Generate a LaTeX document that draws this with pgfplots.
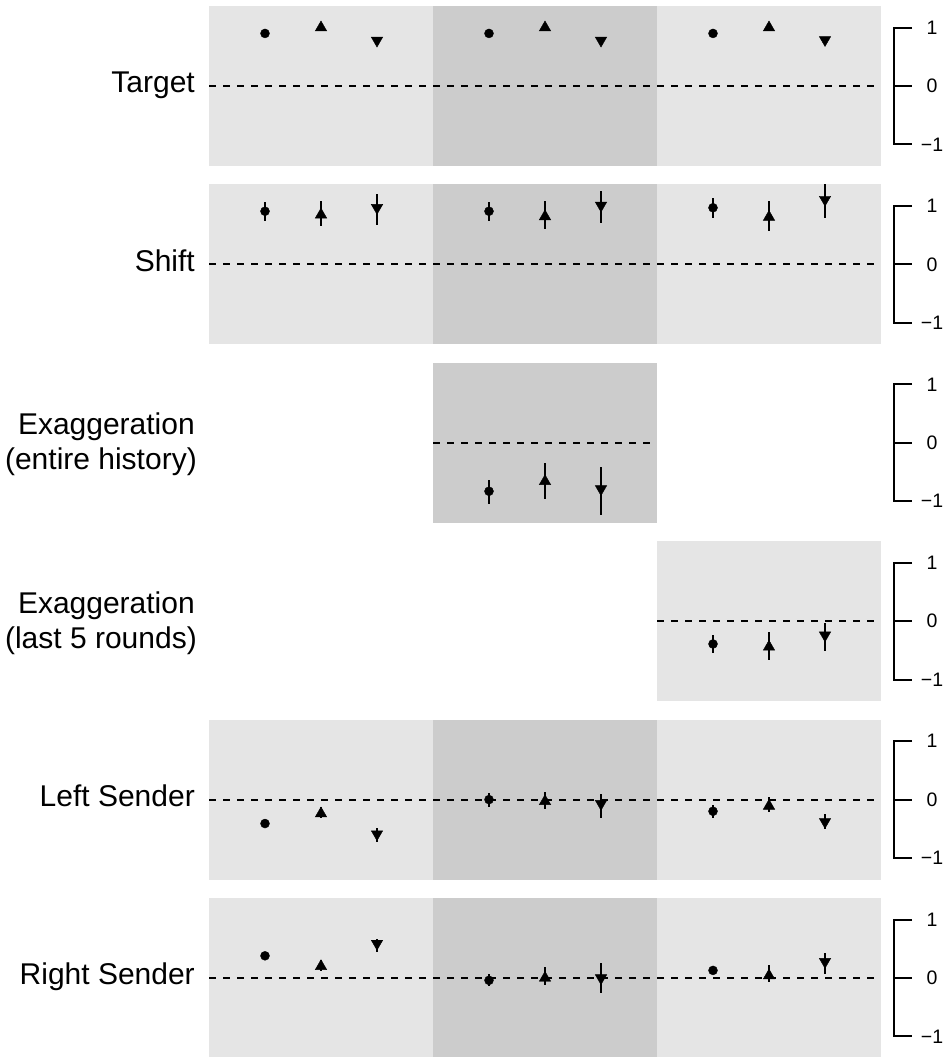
\documentclass[border=0pt]{standalone}
\usepackage{fontspec}
\setmainfont{Liberation Sans}
\usepackage{pgfplots}
\pgfplotsset{compat=1.18}
\definecolor{lg}{HTML}{E5E5E5}
\definecolor{dg}{HTML}{CCCCCC}
\newcommand{\labsize}{\fontsize{30}{36}\selectfont}
\newcommand{\ticksize}{\fontsize{19.5}{23}\selectfont}
\pgfplotsset{
  panel/.style={scale only axis, width=672pt, height=160pt, xmin=0, xmax=3,
    ymin=-1.37, ymax=1.37, hide axis, clip=false, anchor=south west},
  bg/.style={draw=none, mark=none, fill=#1, forget plot},
  zero/.style={black, mark=none, line width=2pt, dash pattern=on 7pt off 7pt},
  circ/.style={only marks, black, mark=*, mark size=4.5pt,
    error bars/.cd, y dir=both, y explicit, error mark=none,
    error bar style={line width=2.2pt, black}},
  upt/.style={only marks, black, mark=triangle*, mark size=6.6pt,
    error bars/.cd, y dir=both, y explicit, error mark=none,
    error bar style={line width=2.2pt, black}},
  dnt/.style={only marks, black, mark=triangle*, mark size=6.6pt, mark options={rotate=180},
    error bars/.cd, y dir=both, y explicit, error mark=none,
    error bar style={line width=2.2pt, black}},
}
\newcommand{\rbracket}{%
  \draw[line width=2pt, line join=miter] ([xshift=31pt]axis cs:3,1) -- ([xshift=13pt]axis cs:3,1) -- ([xshift=13pt]axis cs:3,-1) -- ([xshift=31pt]axis cs:3,-1);
  \draw[line width=2pt] ([xshift=13pt]axis cs:3,0) -- ([xshift=31pt]axis cs:3,0);
  \node[font=\ticksize, inner sep=0pt] at ([xshift=51pt]axis cs:3,1) {1};
  \node[font=\ticksize, inner sep=0pt] at ([xshift=51pt]axis cs:3,0) {0};
  \node[font=\ticksize, inner sep=0pt] at ([xshift=51pt]axis cs:3,-1) {−1};
}
\newcommand{\fullbg}{%
  \addplot[bg=lg] coordinates {(0,-1.37) (1,-1.37) (1,1.37) (0,1.37)};
  \addplot[bg=dg] coordinates {(1,-1.37) (2,-1.37) (2,1.37) (1,1.37)};
  \addplot[bg=lg] coordinates {(2,-1.37) (3,-1.37) (3,1.37) (2,1.37)};
  \addplot[zero] coordinates {(0,0) (3,0)};
}
\begin{document}
\begin{tikzpicture}[x=1pt,y=1pt]
\useasboundingbox (0,0) rectangle (949,1057);

% Row 1: Target
\begin{axis}[panel, at={(209pt,891pt)}]
\fullbg
\addplot[circ] table[x=x,y=y,y error plus=ep,y error minus=em] {
x y ep em
0.25 0.90 0 0
1.25 0.90 0 0
2.25 0.90 0 0
};
\addplot[upt] table[x=x,y=y,y error plus=ep,y error minus=em] {
x y ep em
0.5 1.00 0 0
1.5 1.00 0 0
2.5 1.00 0 0
};
\addplot[dnt] table[x=x,y=y,y error plus=ep,y error minus=em] {
x y ep em
0.75 0.78 0 0
1.75 0.78 0 0
2.75 0.79 0 0
};
\rbracket
\node[anchor=base east, font=\labsize, inner sep=0pt] at ([xshift=-14pt,yshift=-7pt]axis cs:0,0) {Target};
\end{axis}

% Row 2: Shift
\begin{axis}[panel, at={(209pt,712.6pt)}]
\fullbg
\addplot[circ] table[x=x,y=y,y error plus=ep,y error minus=em] {
x y ep em
0.25 0.91 0.15 0.17
1.25 0.91 0.15 0.16
2.25 0.97 0.17 0.18
};
\addplot[upt] table[x=x,y=y,y error plus=ep,y error minus=em] {
x y ep em
0.5 0.85 0.24 0.20
1.5 0.82 0.26 0.21
2.5 0.81 0.27 0.24
};
\addplot[dnt] table[x=x,y=y,y error plus=ep,y error minus=em] {
x y ep em
0.75 0.97 0.24 0.30
1.75 1.01 0.25 0.30
2.75 1.11 0.27 0.32
};
\rbracket
\node[anchor=base east, font=\labsize, inner sep=0pt] at ([xshift=-14pt,yshift=-7pt]axis cs:0,0) {Shift};
\end{axis}

% Row 3: Exaggeration (entire history)
\begin{axis}[panel, at={(209pt,534.2pt)}]
\addplot[bg=dg] coordinates {(1,-1.37) (2,-1.37) (2,1.37) (1,1.37)};
\addplot[zero] coordinates {(1,0) (2,0)};
\addplot[circ] table[x=x,y=y,y error plus=ep,y error minus=em] {
x y ep em
1.25 -0.83 0.19 0.22
};
\addplot[upt] table[x=x,y=y,y error plus=ep,y error minus=em] {
x y ep em
1.5 -0.66 0.32 0.30
};
\addplot[dnt] table[x=x,y=y,y error plus=ep,y error minus=em] {
x y ep em
1.75 -0.79 0.37 0.45
};
\rbracket
\node[anchor=base east, font=\labsize, inner sep=0pt] at ([xshift=-14pt,yshift=8pt]axis cs:0,0) {Exaggeration};
\node[anchor=base east, font=\labsize, inner sep=0pt] at ([xshift=-12pt,yshift=-27pt]axis cs:0,0) {(entire history)};
\end{axis}

% Row 4: Exaggeration (last 5 rounds)
\begin{axis}[panel, at={(209pt,355.8pt)}]
\addplot[bg=lg] coordinates {(2,-1.37) (3,-1.37) (3,1.37) (2,1.37)};
\addplot[zero] coordinates {(2,0) (3,0)};
\addplot[circ] table[x=x,y=y,y error plus=ep,y error minus=em] {
x y ep em
2.25 -0.39 0.15 0.15
};
\addplot[upt] table[x=x,y=y,y error plus=ep,y error minus=em] {
x y ep em
2.5 -0.44 0.26 0.23
};
\addplot[dnt] table[x=x,y=y,y error plus=ep,y error minus=em] {
x y ep em
2.75 -0.24 0.21 0.27
};
\rbracket
\node[anchor=base east, font=\labsize, inner sep=0pt] at ([xshift=-14pt,yshift=8pt]axis cs:0,0) {Exaggeration};
\node[anchor=base east, font=\labsize, inner sep=0pt] at ([xshift=-12pt,yshift=-27pt]axis cs:0,0) {(last 5 rounds)};
\end{axis}

% Row 5: Left Sender
\begin{axis}[panel, at={(209pt,177.4pt)}]
\fullbg
\addplot[circ] table[x=x,y=y,y error plus=ep,y error minus=em] {
x y ep em
0.25 -0.41 0.06 0.06
1.25 0.00 0.12 0.12
2.25 -0.20 0.11 0.12
};
\addplot[upt] table[x=x,y=y,y error plus=ep,y error minus=em] {
x y ep em
0.5 -0.24 0.11 0.08
1.5 -0.03 0.16 0.13
2.5 -0.11 0.15 0.10
};
\addplot[dnt] table[x=x,y=y,y error plus=ep,y error minus=em] {
x y ep em
0.75 -0.59 0.11 0.13
1.75 -0.07 0.17 0.24
2.75 -0.38 0.14 0.13
};
\rbracket
\node[anchor=base east, font=\labsize, inner sep=0pt] at ([xshift=-14pt,yshift=-7pt]axis cs:0,0) {Left Sender};
\end{axis}

% Row 6: Right Sender
\begin{axis}[panel, at={(209pt,-1pt)}]
\fullbg
\addplot[circ] table[x=x,y=y,y error plus=ep,y error minus=em] {
x y ep em
0.25 0.38 0.05 0.05
1.25 -0.04 0.10 0.10
2.25 0.13 0.06 0.06
};
\addplot[upt] table[x=x,y=y,y error plus=ep,y error minus=em] {
x y ep em
0.5 0.20 0.10 0.08
1.5 0.00 0.19 0.12
2.5 0.04 0.18 0.11
};
\addplot[dnt] table[x=x,y=y,y error plus=ep,y error minus=em] {
x y ep em
0.75 0.59 0.08 0.15
1.75 0.00 0.25 0.25
2.75 0.28 0.14 0.21
};
\rbracket
\node[anchor=base east, font=\labsize, inner sep=0pt] at ([xshift=-14pt,yshift=-7pt]axis cs:0,0) {Right Sender};
\end{axis}
\end{tikzpicture}
\end{document}
